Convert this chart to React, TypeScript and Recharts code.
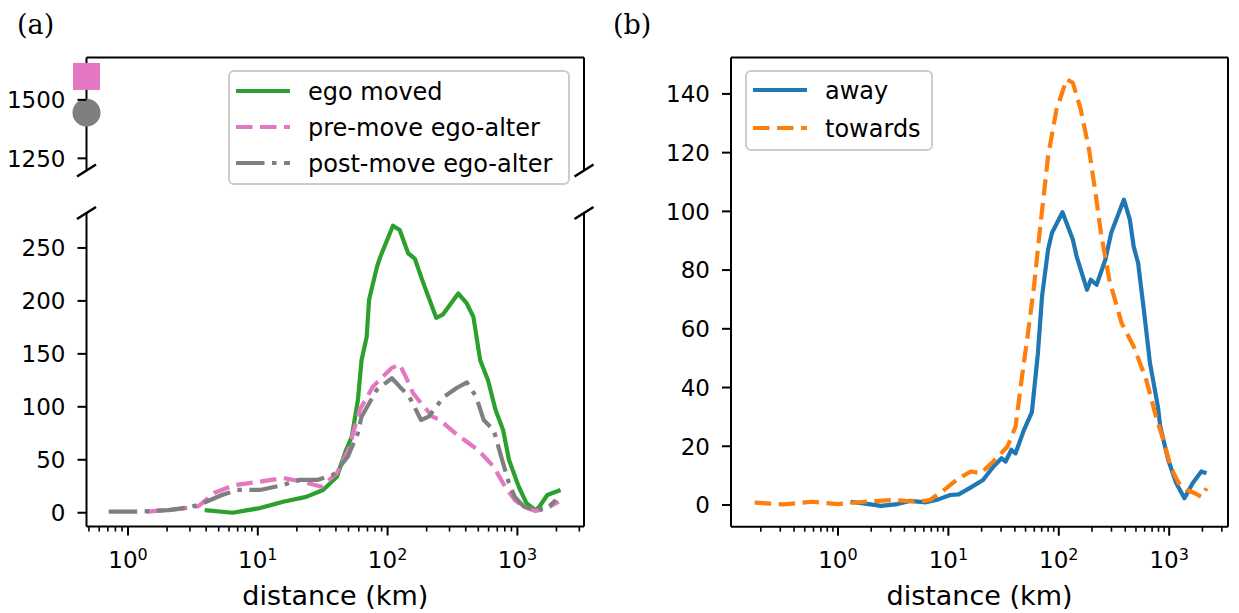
import React from 'react';
import { LineChart, Line, XAxis, YAxis, ReferenceLine, Legend } from 'recharts';

const FONT = '"DejaVu Sans", sans-serif';
const SERIF = '"DejaVu Serif", serif';

// (a) counts per distance bin
const egoMovedKm = [3.9, 6.4, 10.4, 15.7, 23.6, 31.8, 40.7, 47.8, 53, 59, 63, 69, 72, 82.8, 87.5, 110, 124, 144, 162, 187, 237, 266, 350, 406, 458, 517, 594, 679, 777, 861, 1021, 1174, 1380, 1475, 1700, 2150];
const egoMovedN = [2.5, 0, 4.4, 10.4, 15, 21.5, 34, 59, 72, 106, 144, 166, 201, 232, 241, 271, 267, 245, 240, 218, 184, 187, 207, 198, 185, 144, 125, 97, 78, 50, 25, 9, 2.5, 5.7, 16.7, 21.4];

const preMoveKm = [1.4, 2.5, 3.5, 4.6, 6.5, 10.4, 15.7, 22, 31, 40.7, 50, 61, 77, 92, 108, 124, 138, 157, 181, 222, 253, 333, 500, 657, 804, 955, 1123, 1380, 1700, 2080];
const preMoveN = [1, 3.5, 6.3, 18.6, 26, 29.3, 32.8, 29.3, 24.6, 37.5, 60, 97, 119, 128.5, 136.8, 140, 128.5, 113, 103.4, 90.7, 87.6, 75, 59, 43.5, 24.6, 12, 5.7, 1.6, 4.4, 10.4];

const postMoveKm = [0.71, 1.19, 2.05, 3.06, 3.77, 5.3, 6.9, 10.4, 15.7, 20.6, 28.8, 38, 49.4, 59, 63, 82.5, 108, 124, 147, 181, 207, 272, 343, 408, 481, 550, 657, 750, 861, 955, 1123, 1380, 1700, 1980];
const postMoveN = [1, 1, 2.5, 5.4, 9, 16.7, 21.5, 21.5, 26.2, 31, 31, 35.6, 53, 75, 90.7, 116, 127, 119, 109.6, 87.6, 90.7, 109.6, 118, 123, 109.6, 87.6, 78, 53, 28, 15, 5.7, 2.5, 4.4, 12];

// zero-distance counts, shown on the upper (broken) part of (a)
const zeroPreMove = 1600;
const zeroPostMove = 1445;

// (b)
const awayKm = [1.3, 1.9, 2.46, 3.46, 4.46, 6.27, 8.1, 10.4, 12.4, 16, 20.6, 25.5, 30.3, 33, 37.2, 40.6, 48.4, 57, 64.7, 70.5, 80, 86.8, 108, 134, 145, 180, 195, 220, 264, 298, 389, 440, 477, 523, 594, 670, 790, 830, 980, 1160, 1375, 1630, 1955, 2180];
const awayN = [1.1, 0.3, -0.3, 0.3, 1.4, 0.9, 1.9, 3.4, 3.6, 6, 8.5, 13, 15.9, 14.8, 18.8, 17.6, 25.6, 31.5, 51.7, 71, 87, 92.7, 99.7, 90.4, 84.7, 73.3, 76.7, 75, 83.5, 92.6, 104, 97.2, 88, 82.4, 65.4, 48.3, 33.5, 26.7, 15.3, 7.4, 2.3, 7.4, 11.4, 10.8];

const towardsKm = [0.176, 0.32, 0.58, 1.0, 1.76, 3.17, 5.3, 6.8, 9.6, 12.4, 16, 19.7, 25.5, 34.3, 40.6, 46, 52.6, 59.6, 67.5, 80, 95.3, 118, 134, 158, 188, 215, 241, 287, 370, 477, 620, 760, 905, 1030, 1220, 1445, 1700, 1955, 2180];
const towardsN = [0.8, 0.2, 1.1, 0.3, 1.1, 1.7, 1.1, 1.7, 5.7, 9.1, 11.4, 10.8, 14.8, 19.9, 26.7, 42.6, 58.5, 74.4, 93.8, 118.8, 134.7, 145, 143.8, 134.7, 121, 106.3, 92.6, 76.7, 62, 54, 42.6, 30, 21, 13, 7.4, 5.1, 4, 2.8, 5.7];

// ticks
const xTicksA = [0.5, 0.6, 0.7, 0.8, 0.9, 1, 2, 3, 4, 5, 6, 7, 8, 9, 10, 20, 30, 40, 50, 60, 70, 80, 90, 100, 200, 300, 400, 500, 600, 700, 800, 900, 1000, 2000, 3000];
const xTicksB = [0.2, 0.3, 0.4, 0.5, 0.6, 0.7, 0.8, 0.9, 1, 2, 3, 4, 5, 6, 7, 8, 9, 10, 20, 30, 40, 50, 60, 70, 80, 90, 100, 200, 300, 400, 500, 600, 700, 800, 900, 1000, 2000, 3000];
const yTicksTop = [1250, 1500];
const yTicksA = [0, 50, 100, 150, 200, 250];
const yTicksB = [0, 20, 40, 60, 80, 100, 120, 140];

const xDomainA: [number, number] = [0.479, 3260];
const xDomainB: [number, number] = [0.1074, 3409];
const yDomainTop: [number, number] = [1198, 1681];
const yDomainA: [number, number] = [-13, 283];
const yDomainB: [number, number] = [-7.4, 152.4];

const zip = (km: number[], n: number[]) => km.map((d, i) => ({ d, v: n[i] }));

const GREEN = '#2ca02c';
const PINK = '#e377c2';
const GRAY = '#7f7f7f';
const BLUE = '#1f77b4';
const ORANGE = '#ff7f0e';
const DASH = '16.5 7.5';
const DASHDOT = '28.5 7.5 4.5 7.5';
const LW = 4.2;

const legendA = [
  { name: 'ego moved', color: GREEN, dash: undefined },
  { name: 'pre-move ego-alter', color: PINK, dash: DASH },
  { name: 'post-move ego-alter', color: GRAY, dash: DASHDOT },
];
const legendB = [
  { name: 'away', color: BLUE, dash: undefined },
  { name: 'towards', color: ORANGE, dash: DASH },
];

const LogTick = (props: any) => {
  const { x, y, payload } = props;
  const e = Math.log10(payload.value);
  const major = Math.abs(e - Math.round(e)) < 1e-6;
  return (
    <g>
      <line x1={x} x2={x} y1={y} y2={y + (major ? 9 : 5)} stroke="#000" strokeWidth={major ? 2 : 1.6} />
      {major && (
        <text x={x} y={y + 41.5} textAnchor="middle" fontSize={23} fontFamily={FONT} fill="#000">
          10<tspan dy={-8.5} fontSize={16}>{Math.round(e)}</tspan>
        </text>
      )}
    </g>
  );
};

const NumTick = (props: any) => {
  const { x, y, payload } = props;
  return (
    <g>
      <line x1={x - 9} x2={x} y1={y} y2={y} stroke="#000" strokeWidth={2} />
      <text x={x - 21} y={y} dy="0.36em" textAnchor="end" fontSize={23} fontFamily={FONT} fill="#000">
        {payload.value}
      </text>
    </g>
  );
};

const LegendPanel = ({ items, width, height, firstRow, rowGap }: any) => (
  <svg width={width} height={height} style={{ display: 'block', overflow: 'visible' }}>
    <rect x={1} y={1} width={width - 2} height={height - 2} rx={5} fill="rgba(255,255,255,0.8)" stroke="#cccccc" strokeWidth={2} />
    {items.map((it: any, i: number) => {
      const y = firstRow + i * rowGap;
      return (
        <g key={it.name}>
          <line x1={8} x2={62} y1={y} y2={y} stroke={it.color} strokeWidth={LW} strokeDasharray={it.dash} />
          <text x={80} y={y + 8.5} fontSize={24} fontFamily={FONT} fill="#000">{it.name}</text>
        </g>
      );
    })}
  </svg>
);

const SquareDot = (p: any) => (
  <rect key={`sq-${p.index}`} x={p.cx - 13.5} y={p.cy - 13.5} width={27} height={27} fill={PINK} />
);
const CircleDot = (p: any) => <circle key={`ci-${p.index}`} cx={p.cx} cy={p.cy} r={14} fill={GRAY} />;

const spine = { stroke: '#000', strokeWidth: 2 };

export default function App() {
  const breaks = [
    [86.5, 170.5],
    [584, 170.5],
    [86.5, 213],
    [584, 213],
  ];
  return (
    <div style={{ position: 'absolute', left: 0, top: 0, width: 1239, height: 613, background: '#fff', fontFamily: FONT }}>
      {/* (a) upper part of the broken axis */}
      <div style={{ position: 'absolute', left: 0, top: 40 }}>
        <LineChart width={600} height={150} margin={{ top: 17.5, right: 16, bottom: 19.5, left: 6.5 }}>
          <XAxis dataKey="d" type="number" scale="log" domain={xDomainA} hide />
          <YAxis
            type="number"
            domain={yDomainTop}
            ticks={yTicksTop}
            width={80}
            interval={0}
            tickSize={0}
            tickMargin={0}
            tickLine={false}
            axisLine={spine}
            tick={(p: any) => <NumTick {...p} />}
          />
          <ReferenceLine y={yDomainTop[1]} {...spine} />
          <ReferenceLine x={xDomainA[1]} {...spine} />
          <Line
            data={[{ d: xDomainA[0], v: zeroPreMove }]}
            dataKey="v"
            stroke="none"
            dot={SquareDot}
            isAnimationActive={false}
          />
          <Line
            data={[{ d: xDomainA[0], v: zeroPostMove }]}
            dataKey="v"
            stroke="none"
            dot={CircleDot}
            isAnimationActive={false}
          />
          <Legend
            layout="vertical"
            align="center"
            verticalAlign="middle"
            wrapperStyle={{ left: 228, top: 30, width: 342, height: 115 }}
            content={() => <LegendPanel items={legendA} width={342} height={115} firstRow={21} rowGap={36} />}
          />
        </LineChart>
      </div>

      {/* (a) lower part */}
      <div style={{ position: 'absolute', left: 0, top: 190 }}>
        <LineChart width={600} height={423} margin={{ top: 23, right: 16, bottom: 0, left: 6.5 }}>
          <XAxis
            dataKey="d"
            type="number"
            scale="log"
            domain={xDomainA}
            ticks={xTicksA}
            interval={0}
            height={86.5}
            tickSize={0}
            tickMargin={0}
            tickLine={false}
            axisLine={spine}
            tick={(p: any) => <LogTick {...p} />}
            label={{ value: 'distance (km)', position: 'insideBottom', offset: 8, fontSize: 27, fill: '#000', fontFamily: FONT }}
          />
          <YAxis
            type="number"
            domain={yDomainA}
            ticks={yTicksA}
            width={80}
            interval={0}
            tickSize={0}
            tickMargin={0}
            tickLine={false}
            axisLine={spine}
            tick={(p: any) => <NumTick {...p} />}
          />
          <ReferenceLine x={xDomainA[1]} {...spine} />
          <Line data={zip(egoMovedKm, egoMovedN)} dataKey="v" stroke={GREEN} strokeWidth={LW} dot={false} strokeLinejoin="round" isAnimationActive={false} />
          <Line data={zip(preMoveKm, preMoveN)} dataKey="v" stroke={PINK} strokeWidth={LW} strokeDasharray={DASH} dot={false} strokeLinejoin="round" isAnimationActive={false} />
          <Line data={zip(postMoveKm, postMoveN)} dataKey="v" stroke={GRAY} strokeWidth={LW} strokeDasharray={DASHDOT} dot={false} strokeLinejoin="round" isAnimationActive={false} />
        </LineChart>
      </div>

      {/* (b) */}
      <div style={{ position: 'absolute', left: 600, top: 0 }}>
        <LineChart width={639} height={613} margin={{ top: 57.5, right: 11, bottom: 0, left: 31 }}>
          <XAxis
            dataKey="d"
            type="number"
            scale="log"
            domain={xDomainB}
            ticks={xTicksB}
            interval={0}
            height={86.3}
            tickSize={0}
            tickMargin={0}
            tickLine={false}
            axisLine={spine}
            tick={(p: any) => <LogTick {...p} />}
            label={{ value: 'distance (km)', position: 'insideBottom', offset: 8, fontSize: 27, fill: '#000', fontFamily: FONT }}
          />
          <YAxis
            type="number"
            domain={yDomainB}
            ticks={yTicksB}
            width={100}
            interval={0}
            tickSize={0}
            tickMargin={0}
            tickLine={false}
            axisLine={spine}
            tick={(p: any) => <NumTick {...p} />}
          />
          <ReferenceLine x={xDomainB[1]} {...spine} />
          <ReferenceLine y={yDomainB[1]} {...spine} />
          <Line data={zip(awayKm, awayN)} dataKey="v" stroke={BLUE} strokeWidth={LW} dot={false} strokeLinejoin="round" isAnimationActive={false} />
          <Line data={zip(towardsKm, towardsN)} dataKey="v" stroke={ORANGE} strokeWidth={LW} strokeDasharray={DASH} dot={false} strokeLinejoin="round" isAnimationActive={false} />
          <Legend
            layout="vertical"
            align="center"
            verticalAlign="middle"
            wrapperStyle={{ left: 145, top: 70, width: 188, height: 81 }}
            content={() => <LegendPanel items={legendB} width={188} height={81} firstRow={20} rowGap={38} />}
          />
        </LineChart>
      </div>

      {/* panel letters and axis-break marks */}
      <svg width={1239} height={613} style={{ position: 'absolute', left: 0, top: 0, pointerEvents: 'none' }}>
        <text x={17} y={34} fontSize={27} fontFamily={SERIF} fill="#000">(a)</text>
        <text x={613} y={34} fontSize={27} fontFamily={SERIF} fill="#000">(b)</text>
        {breaks.map(([cx, cy]) => (
          <line key={`${cx}-${cy}`} x1={cx - 9.5} y1={cy + 6} x2={cx + 9.5} y2={cy - 6} stroke="#000" strokeWidth={2.5} />
        ))}
      </svg>
    </div>
  );
}
